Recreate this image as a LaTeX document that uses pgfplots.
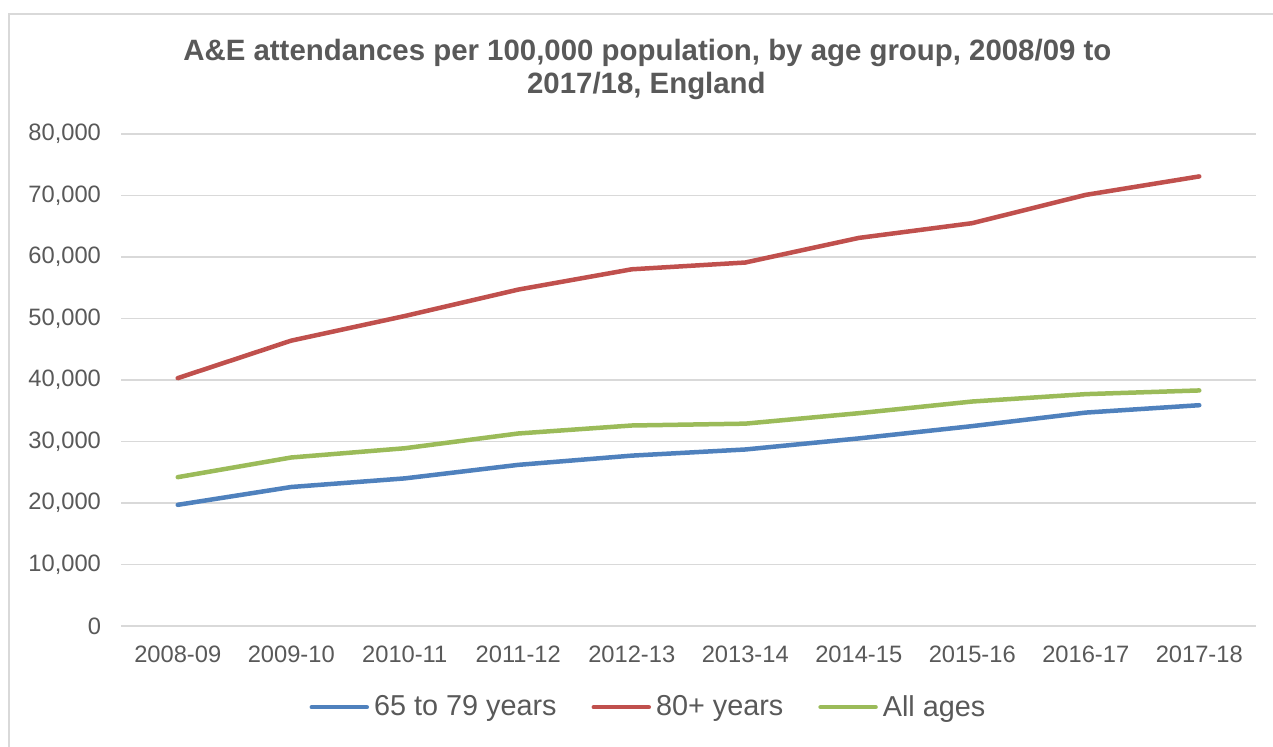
\documentclass[border=0pt]{standalone}
\usepackage{pgfplots}
\pgfplotsset{compat=1.18}
\usepackage{fontspec}
\setmainfont{Liberation Sans}
\definecolor{txt}{HTML}{595959}
\definecolor{gridc}{HTML}{D9D9D9}
\definecolor{sblue}{HTML}{4F81BD}
\definecolor{sred}{HTML}{C0504D}
\definecolor{sgreen}{HTML}{9BBB59}
\begin{document}
\begin{tikzpicture}
\path[use as bounding box] (0,0) rectangle (636.5pt,373.5pt);
\fill[white] (0,0) rectangle (636.5pt,373.5pt);
\draw[gridc, line width=0.75pt] (4.5pt,0) -- (4.5pt,366.5pt) -- (636.5pt,366.5pt);
\node[anchor=base, text=txt, font=\fontsize{14.7}{17}\selectfont\bfseries, inner sep=0pt] at (323.7pt,343pt) {A\&E attendances per 100,000 population, by age group, 2008/09 to};
\node[anchor=base, text=txt, font=\fontsize{14.7}{17}\selectfont\bfseries, inner sep=0pt] at (323.2pt,326.5pt) {2017/18, England};
\begin{axis}[
  at={(60.5pt,60.5pt)}, anchor=south west,
  width=567.5pt, height=246pt, scale only axis,
  xmin=-0.5, xmax=9.5, ymin=0, ymax=80000,
  xtick={0,...,9},
  xticklabels={2008-09,2009-10,2010-11,2011-12,2012-13,2013-14,2014-15,2015-16,2016-17,2017-18},
  ytick={0,10000,...,80000},
  scaled ticks=false,
  /pgf/number format/.cd, fixed, 1000 sep={,}, assume math mode=true,
  /pgfplots/.cd,
  axis line style={draw=none},
  major tick length=0pt,
  ymajorgrids, grid style={gridc, line width=0.75pt},
  tick label style={text=txt, font=\fontsize{11.85}{14}\selectfont},
  yticklabel style={xshift=-6.5pt},
  xticklabel style={yshift=-6.5pt},
  legend style={at={(axis description cs:0.466,-0.165)}, anchor=center, draw=none, fill=none,
    legend columns=3, font=\fontsize{14.4}{16}\selectfont, text=txt,
    nodes={inner xsep=2.5pt, inner ysep=0pt},
    /tikz/every even column/.append style={column sep=15pt}},
  legend image code/.code={\draw[#1, line cap=round] (0pt,0pt) -- (27.5pt,0pt);},
  every axis plot/.append style={line width=2.25pt, line cap=round, line join=round},
]
\addplot[sblue] coordinates {(0,19700)(1,22600)(2,24000)(3,26200)(4,27700)(5,28700)(6,30500)(7,32500)(8,34700)(9,35900)};
\addlegendentry{65 to 79 years}
\addplot[sred] coordinates {(0,40300)(1,46400)(2,50400)(3,54700)(4,58000)(5,59100)(6,63100)(7,65500)(8,70100)(9,73100)};
\addlegendentry{80+ years}
\addplot[sgreen] coordinates {(0,24200)(1,27400)(2,28900)(3,31300)(4,32600)(5,32900)(6,34600)(7,36500)(8,37700)(9,38300)};
\addlegendentry{All ages}
\end{axis}
\end{tikzpicture}
\end{document}
